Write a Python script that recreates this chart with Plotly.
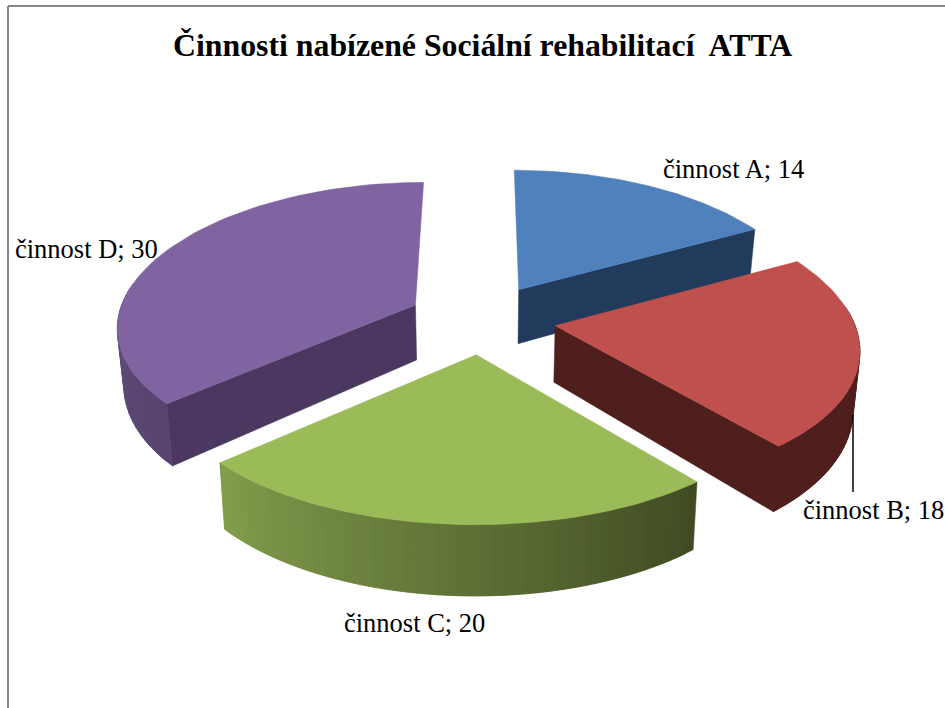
import math
import plotly.graph_objects as go

title = "Činnosti nabízené Sociální rehabilitací  ATTA"
categories = ["činnost A", "činnost B", "činnost C", "činnost D"]
values = [14, 18, 20, 30]
top_colors = ["#4F81BD", "#C0504D", "#9BBB59", "#8064A2"]
cut_colors = ["#223A5C", "#4F1F1D", "#3F4A22", "#4A3860"]
rim_start = ["#3A6190", "#4F1F1D", "#3F4A22", "#57446F"]
rim_end = ["#3A6190", "#4F1F1D", "#829E4C", "#715A92"]
label_x = [661, 801, 342, 13]
label_y = [169, 510, 623, 249]
draw_order = [0, 3, 1, 2]

CX, CY = 482, 319
RADIUS, EXPLODE = 298, 74
TILT, DEPTH = 0.471, 56
PERSP_X, PERSP_Y = 2100, 2500
BOTTOM_SHRINK = 0.982


def project(u, v, bottom=False):
    sx = PERSP_X / (PERSP_X + v)
    sy = PERSP_Y / (PERSP_Y + v)
    if bottom:
        return CX + u * sx * BOTTOM_SHRINK, CY - v * TILT * sy + DEPTH * sy ** 1.5
    return CX + u * sx, CY - v * TILT * sy


def mix(a, b, t):
    ca = [int(a[i:i + 2], 16) for i in (1, 3, 5)]
    cb = [int(b[i:i + 2], 16) for i in (1, 3, 5)]
    return "#%02X%02X%02X" % tuple(round(x + (y - x) * t) for x, y in zip(ca, cb))


def poly(fig, pts, color):
    fig.add_trace(go.Scatter(
        x=[p[0] for p in pts] + [pts[0][0]],
        y=[p[1] for p in pts] + [pts[0][1]],
        mode="lines", fill="toself", fillcolor=color,
        line=dict(color=color, width=0.5),
        hoverinfo="skip", showlegend=False))


fig = go.Figure()
total = sum(values)
starts = [sum(values[:i]) / total * 2 * math.pi for i in range(len(values))]

for i in draw_order:
    a0 = starts[i]
    a1 = a0 + values[i] / total * 2 * math.pi
    mid = (a0 + a1) / 2
    ou, ov = EXPLODE * math.sin(mid), EXPLODE * math.cos(mid)

    def rim(a):
        return ou + RADIUS * math.sin(a), ov + RADIUS * math.cos(a)

    # curved outer wall, split into overlapping strips for the shading
    n = max(8, int(values[i] * 2.5))
    for k in range(n):
        b0 = a0 + (a1 - a0) * k / n
        b1 = a0 + (a1 - a0) * min(k + 2, n) / n
        if math.cos(a0 + (a1 - a0) * (k + 0.5) / n) < 0.12:
            p0, p1 = rim(b0), rim(b1)
            poly(fig, [project(*p0), project(*p1),
                       project(*p1, True), project(*p0, True)],
                 mix(rim_start[i], rim_end[i], (k + 0.5) / n))

    # flat cut faces that turn towards the viewer
    for ang, visible in ((a0, math.sin(a0) < -1e-6), (a1, math.sin(a1) > 1e-6)):
        if visible:
            ru, rv = rim(ang)
            poly(fig, [project(ou, ov), project(ru, rv),
                       project(ru, rv, True), project(ou, ov, True)], cut_colors[i])

    # top surface
    steps = 60
    pts = [project(ou, ov)]
    pts += [project(*rim(a0 + (a1 - a0) * k / steps)) for k in range(steps + 1)]
    poly(fig, pts, top_colors[i])

annotations = [dict(text="<b>" + title + "</b>", x=482, y=45, xref="x", yref="y", showarrow=False,
                    font=dict(family="Liberation Serif", size=31.8, color="black"))]
for name, val, lx, ly in zip(categories, values, label_x, label_y):
    annotations.append(dict(text=f"{name}; {val}", x=lx, y=ly, xref="x", yref="y",
                            xanchor="left", showarrow=False,
                            font=dict(family="Liberation Serif", size=26.5, color="black")))

fig.update_layout(
    width=945, height=708, margin=dict(l=0, r=0, t=0, b=0),
    paper_bgcolor="white", plot_bgcolor="white",
    xaxis=dict(range=[0, 945], visible=False, fixedrange=True),
    yaxis=dict(range=[708, 0], visible=False, fixedrange=True),
    annotations=annotations,
    shapes=[
        dict(type="line", xref="x", yref="y", x0=8, y0=6, x1=945, y1=6,
             line=dict(color="#868686", width=2), layer="below"),
        dict(type="line", xref="x", yref="y", x0=8, y0=6, x1=8, y1=708,
             line=dict(color="#868686", width=2), layer="below"),
        dict(type="line", xref="x", yref="y", x0=853, y0=415, x1=853, y1=492,
             line=dict(color="black", width=1.5), layer="above"),
    ],
)
fig.write_html("out.html", config=dict(displayModeBar=False),
               post_script="document.body.style.margin='0';document.body.style.overflow='hidden';")
